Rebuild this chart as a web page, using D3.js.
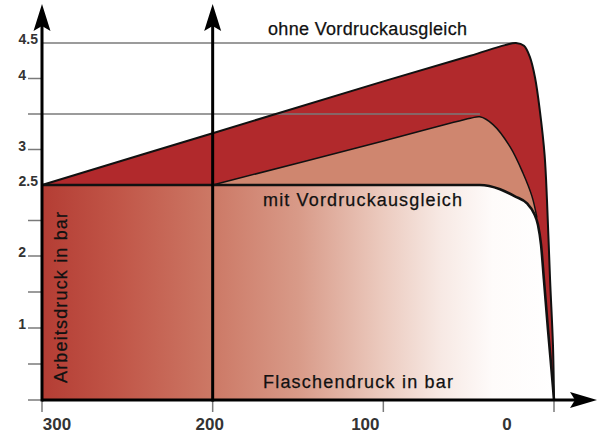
<!DOCTYPE html>
<html>
<head>
<meta charset="utf-8">
<script src="https://cdn.jsdelivr.net/npm/d3@7"></script>
<style>
  body { margin: 0; background: #fff; }
  svg { display: block; font-family: "Liberation Sans", Arial, Helvetica, sans-serif; }
</style>
</head>
<body>
<div id="chart"></div>
<script>
// Flaschendruck (bar) -> Arbeitsdruck (bar)
const xTicks = [300, 200, 100, 0];
const yTicks = [0, 0.5, 1, 1.5, 2, 2.25, 2.5, 3, 3.5, 4, 4.5];
const yTickLabels = ["", "", "1", "", "2", "", "2.5", "3", "", "4", "4.5"];
const yNoMark = [2.5, 4.5];

// ohne Vordruckausgleich (outer curve)
const ohne = [[300, 2.5], [200, 3.23], [100, 3.96], [49, 4.32], [28.7, 4.47], [22.3, 4.5],
  [17.6, 4.46], [14.1, 4.3], [11.1, 4.01], [8.2, 3.53], [5.5, 2.92], [4.1, 2.39],
  [2.3, 1.67], [0.6, 0.76], [0, 0]];
// intermediate curve (starting at 200 bar)
const mittel = [[200, 2.5], [100, 3.12], [49, 3.44], [43.4, 3.46], [35.7, 3.35],
  [25.8, 3.04], [18.2, 2.67], [12.9, 2.42], [10, 2.27]];
// mit Vordruckausgleich
const mit = [[300, 2.5], [200, 2.5], [43.4, 2.5], [31.6, 2.47], [22.9, 2.42], [15.8, 2.37], [11.7, 2.3],
  [9.4, 2.22], [7.6, 2.08], [5.9, 1.67], [3.5, 0.97], [0.6, 0.18], [0, 0]];

const width = 603, height = 434;

const x = d3.scaleLinear().domain([300, 0]).range([42, 554]);
// axis in the drawing is not linear: the 2 .. 2.5 step is stretched
const y = d3.scaleLinear().domain([0, 2, 2.5, 4.5]).range([400, 256, 185, 43]);

const svg = d3.select("#chart").append("svg")
    .attr("width", width)
    .attr("height", height);

const defs = svg.append("defs");
const grad = defs.append("linearGradient")
    .attr("id", "fade")
    .attr("gradientUnits", "userSpaceOnUse")
    .attr("x1", x(300)).attr("x2", x(0))
    .attr("y1", 0).attr("y2", 0);
[[0, "#b43d34"], [0.15, "#c15648"], [0.33, "#cc7865"], [0.5, "#d89a88"],
 [0.66, "#ebc9bd"], [0.78, "#f7e9e4"], [0.88, "#fefbfa"], [1, "#ffffff"]]
  .forEach(([o, c]) => grad.append("stop").attr("offset", o).attr("stop-color", c));

const round = d3.curveCatmullRom.alpha(0.5);

const area = (c) => d3.area()
    .x(d => x(d[0]))
    .y0(y(0))
    .y1(d => y(d[1]))
    .curve(c);

const line = (c) => d3.line()
    .x(d => x(d[0]))
    .y(d => y(d[1]))
    .curve(c);

// middle curve runs into the mit curve after ~10 bar
const mittelShape = mittel.concat(mit.filter(d => d[0] < mittel[mittel.length - 1][0]));

svg.append("path").attr("d", area(round)(ohne)).attr("fill", "#b1292c");
svg.append("path").attr("d", area(round)(mittelShape)).attr("fill", "#cf866f");
svg.append("path").attr("d", area(d3.curveMonotoneX)(mit)).attr("fill", "url(#fade)");

// grey guide lines to the peaks
const peakOhne = d3.greatest(ohne, d => d[1]);
const peakMittel = d3.greatest(mittel, d => d[1]);
svg.append("g")
    .attr("stroke", "#7a7a7a")
    .attr("stroke-width", 1.5)
  .selectAll("line")
  .data([[4.5, peakOhne[0]], [3.5, peakMittel[0]]])
  .join("line")
    .attr("x1", x(300))
    .attr("x2", d => x(d[1]))
    .attr("y1", d => y(d[0]))
    .attr("y2", d => y(d[0]));

// curve outlines
svg.append("path").attr("d", line(round)(ohne)).attr("fill", "none").attr("stroke", "#111").attr("stroke-width", 2);
svg.append("path").attr("d", line(round)(mittel)).attr("fill", "none").attr("stroke", "#111").attr("stroke-width", 1.5);
svg.append("path").attr("d", line(d3.curveMonotoneX)(mit)).attr("fill", "none").attr("stroke", "#111").attr("stroke-width", 2.6);

// y ticks
const yAxis = svg.append("g");
yAxis.selectAll("line")
  .data(yTicks.filter(v => !yNoMark.includes(v)))
  .join("line")
    .attr("x1", x(300) - 14)
    .attr("x2", x(300))
    .attr("y1", d => y(d))
    .attr("y2", d => y(d))
    .attr("stroke", "#7a7a7a")
    .attr("stroke-width", 1.5);
yAxis.selectAll("text")
  .data(yTicks.map((v, i) => [v, yTickLabels[i]]).filter(d => d[1] !== ""))
  .join("text")
    .attr("x", d => yNoMark.includes(d[0]) ? x(300) - 4 : x(300) - 16)
    .attr("y", d => y(d[0]) + 1)
    .attr("text-anchor", "end")
    .attr("font-size", 14)
    .attr("font-weight", "bold")
    .attr("fill", "#333")
    .text(d => d[1]);

// x ticks
const xLabelShift = [15, -3, -18, -47];
const xAxis = svg.append("g");
xAxis.selectAll("line")
  .data(xTicks)
  .join("line")
    .attr("x1", d => x(d))
    .attr("x2", d => x(d))
    .attr("y1", y(0))
    .attr("y2", y(0) + 12)
    .attr("stroke", "#7a7a7a")
    .attr("stroke-width", 1.5);
xAxis.selectAll("text")
  .data(xTicks)
  .join("text")
    .attr("x", (d, i) => x(d) + xLabelShift[i])
    .attr("y", 430)
    .attr("text-anchor", "middle")
    .attr("font-size", 17)
    .attr("font-weight", "bold")
    .attr("fill", "#333")
    .text(d => d);

// axes with arrows
const axisG = svg.append("g").attr("stroke", "#000").attr("fill", "#000");
[x(300), x(200)].forEach(px => {
  axisG.append("line")
      .attr("x1", px).attr("x2", px)
      .attr("y1", y(0) + 1.5).attr("y2", 24)
      .attr("stroke-width", 3);
  axisG.append("path")
      .attr("stroke", "none")
      .attr("d", `M${px},4 L${px + 8.5},31 L${px},26 L${px - 8.5},31 Z`);
});
axisG.append("line")
    .attr("x1", x(300)).attr("x2", 578)
    .attr("y1", y(0)).attr("y2", y(0))
    .attr("stroke-width", 3);
axisG.append("path")
    .attr("stroke", "none")
    .attr("d", `M597,${y(0)} L570,${y(0) - 8} L575,${y(0)} L570,${y(0) + 8} Z`);

// labels
const labels = svg.append("g")
    .attr("font-size", 18)
    .attr("fill", "#111")
    .attr("stroke", "#111")
    .attr("stroke-width", 0.25)
    .attr("lengthAdjust", "spacingAndGlyphs");
labels.append("text").attr("x", 268).attr("y", 35).attr("textLength", 199).text("ohne Vordruckausgleich");
labels.append("text").attr("x", 263).attr("y", 206).attr("textLength", 199).text("mit Vordruckausgleich");
labels.append("text").attr("x", 263).attr("y", 388).attr("textLength", 190).text("Flaschendruck in bar");
labels.append("text")
    .attr("transform", "translate(67,383) rotate(-90)")
    .attr("textLength", 171)
    .text("Arbeitsdruck in bar");
</script>
</body>
</html>
